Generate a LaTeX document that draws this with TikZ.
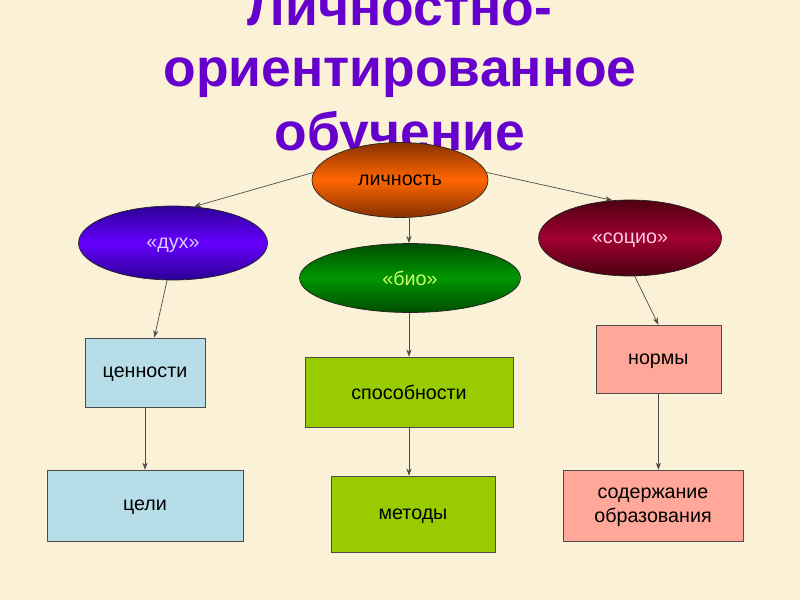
\documentclass[tikz,border=0pt]{standalone}
\usepackage{fontspec}
\setmainfont{Liberation Sans}
\usetikzlibrary{arrows.meta, positioning, shapes.geometric, calc}
\definecolor{bgcream}{RGB}{250,241,214}
\definecolor{titleviolet}{RGB}{102,0,204}
\definecolor{valuecyan}{RGB}{183,222,232}
\definecolor{abilgreen}{RGB}{153,204,0}
\definecolor{normpink}{RGB}{255,168,153}
\definecolor{lichmid}{RGB}{255,102,0}
\definecolor{lichedge}{RGB}{140,50,0}
\definecolor{dukhmid}{RGB}{102,0,255}
\definecolor{dukhedge}{RGB}{45,0,150}
\definecolor{dukhtext}{RGB}{215,205,255}
\definecolor{biomid}{RGB}{0,150,0}
\definecolor{bioedge}{RGB}{0,80,0}
\definecolor{biotext}{RGB}{204,255,102}
\definecolor{sociomid}{RGB}{160,0,50}
\definecolor{socioedge}{RGB}{80,0,18}
\definecolor{sociotext}{RGB}{255,205,225}
\tikzset{
  linkarr/.style={-{Stealth[length=1.8mm, width=1.3mm]}, line width=0.5pt, draw=black!70},
  titletext/.style={font=\fontsize{38}{45}\selectfont\bfseries, text=titleviolet,
                    anchor=base, inner sep=0pt},
  oval/.style={ellipse, draw=black!85, line width=0.5pt, inner sep=0pt, text depth=0pt,
               font=\fontsize{14}{17}\selectfont},
  % bright middle, dark top and bottom
  gradfill/.style 2 args={path picture={
      \foreach \k in {0,...,29} {
        \pgfmathtruncatemacro\mixval{100*abs(\k-14.5)/14.5}
        \fill[#2!\mixval!#1]
          ($(path picture bounding box.north west)!{\k/30}!(path picture bounding box.south west)$)
          rectangle
          ($(path picture bounding box.north east)!{(\k+1.4)/30}!(path picture bounding box.south east)$);
      }
  }},
  leafbox/.style={rectangle, draw=gray!60!black, line width=0.5pt, align=center,
                  inner sep=2pt, text depth=0pt, font=\fontsize{14}{17}\selectfont},
  valuebox/.style={leafbox, fill=valuecyan},
  abilbox/.style={leafbox, fill=abilgreen},
  normbox/.style={leafbox, fill=normpink},
}
\begin{document}
\begin{tikzpicture}
  \fill[bgcream] (0,0) rectangle (20,-15);
  \useasboundingbox (0,0) rectangle (20,-15);

  % title
  \node[titletext] (ttl1) at (10,-0.63) {Личностно-};
  \node[titletext] (ttl2) at (10,-2.17) {ориентированное};
  \node[titletext] (ttl3) at (10,-3.77) {обучение};

  % ovals
  \node[oval, minimum width=4.4cm, minimum height=1.875cm, gradfill={lichmid}{lichedge}]
        (lich) at (10,-4.5) {личность};
  \node[oval, minimum width=4.725cm, minimum height=1.85cm, text=dukhtext,
        gradfill={dukhmid}{dukhedge}] (dukh) at (4.325,-6.075) {«дух»};
  \node[oval, minimum width=5.525cm, minimum height=1.725cm, text=biotext,
        gradfill={biomid}{bioedge}] (bio) at (10.25,-6.95) {«био»};
  \node[oval, minimum width=4.575cm, minimum height=1.9cm, text=sociotext,
        gradfill={sociomid}{socioedge}] (socio) at (15.75,-5.95) {«социо»};

  % boxes
  \node[valuebox, minimum width=3cm, minimum height=1.725cm] (cen) at (3.625,-9.31) {ценности};
  \node[valuebox, minimum width=4.9cm, minimum height=1.775cm] (celi) at (3.625,-12.64) {цели};
  \node[abilbox, minimum width=5.2cm, minimum height=1.75cm] (spos) at (10.225,-9.8) {способности};
  \node[abilbox, minimum width=4.1cm, minimum height=1.9cm] (metody) at (10.325,-12.85) {методы};
  \node[normbox, minimum width=3.125cm, minimum height=1.7cm] (normy) at (16.46,-8.975) {нормы};
  \node[normbox, minimum width=4.5cm, minimum height=1.775cm] (soder) at (16.325,-12.64)
        {содержание\\образования};

  % links
  \draw[linkarr] (lich.175) -- (dukh.60);
  \draw[linkarr] (lich.5) -- (socio.115);
  \draw[linkarr] (dukh.261) -- (cen.75);
  \draw[linkarr] (socio.277) -- (normy.north);
  \foreach \a/\b in {lich/bio, bio/spos, spos/metody} {
    \draw[linkarr] (\a.south -| spos.south) -- (\b.north -| spos.south);
  }
  \foreach \a/\b in {cen/celi, normy/soder} {
    \draw[linkarr] (\a.south) -- (\a.south |- \b.north);
  }
\end{tikzpicture}
\end{document}
